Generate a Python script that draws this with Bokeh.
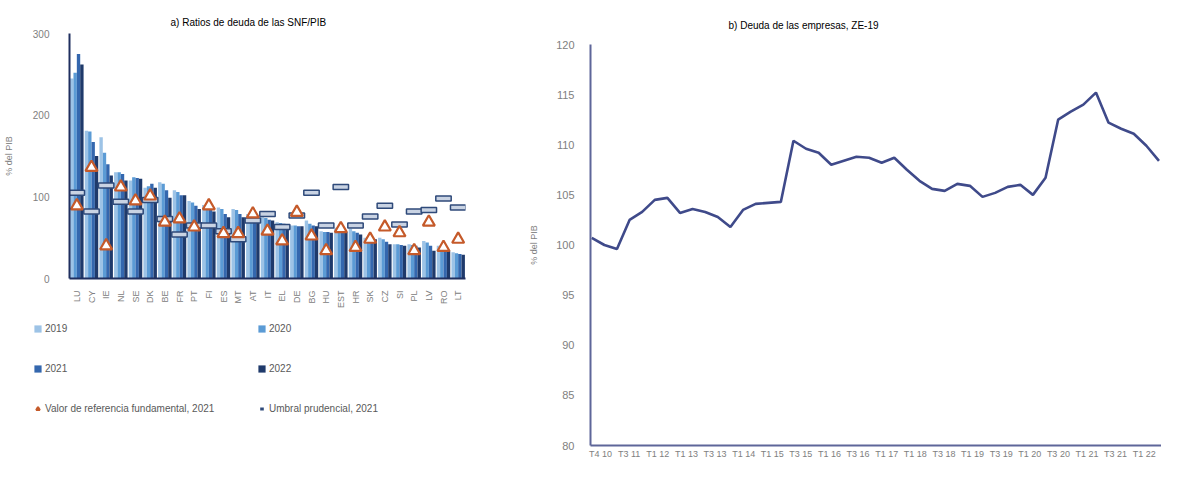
import math
from bokeh.plotting import figure
from bokeh.models import (FactorRange, Range1d, Legend, LegendItem, FixedTicker,
                          ColumnDataSource)
from bokeh.transform import dodge
from bokeh.layouts import row, column
from bokeh.embed import file_html
from bokeh.resources import INLINE

# ---------------- data: panel a ----------------
countries = ["LU", "CY", "IE", "NL", "SE", "DK", "BE", "FR", "PT", "FI", "ES", "MT", "AT", "IT",
             "EL", "DE", "BG", "HU", "EST", "HR", "SK", "CZ", "SI", "PL", "LV", "RO", "LT"]
ratio_2019 = [245, 181, 173, 130, 120, 111, 118, 108, 95, 90, 87, 85, 79, 75,
              69, 65, 71, 58, 62, 61, 50, 50, 42, 42, 46, 40, 32]
ratio_2020 = [252, 180, 154, 130, 124, 113, 116, 106, 93, 88, 85, 84, 78, 74,
              68, 65, 67, 57, 60, 58, 49, 48, 42, 41, 44, 38, 31]
ratio_2021 = [275, 167, 140, 128, 123, 116, 108, 102, 89, 85, 79, 79, 76, 72,
              67, 64, 65, 57, 58, 56, 48, 45, 41, 40, 40, 36, 30]
ratio_2022 = [262, 150, 126, 120, 122, 111, 99, 102, 85, 82, 75, 75, 74, 71,
              66, 64, 64, 56, 57, 54, 48, 42, 40, 38, 34, 34, 29]
ref_fund_2021 = [89, 136, 40, 112, 95, 101, 69, 73, 63, 89, 55, 55, 79, 58,
                 46, 81, 52, 34, 61, 38, 48, 63, 56, 34, 69, 38, 48]
umbral_2021 = [105, 82, 114, 94, 82, 96, 73, 54, 65, 65, 58, 48, 71, 79,
               63, 77, 105, 65, 112, 65, 76, 89, 66, 82, 84, 98, 87]
left_yticks = [0, 100, 200, 300]

# ---------------- data: panel b ----------------
deuda_empresas = [100.7, 100.0, 99.6, 102.5, 103.3, 104.5, 104.7, 103.2, 103.6, 103.3,
                  102.8, 101.8, 103.5, 104.1, 104.2, 104.3, 110.4, 109.6, 109.2, 108.0,
                  108.4, 108.8, 108.7, 108.2, 108.7, 107.5, 106.4, 105.6, 105.4, 106.1,
                  105.9, 104.8, 105.2, 105.8, 106.0, 105.0, 106.7, 112.5, 113.3, 114.0,
                  115.2, 112.2, 111.6, 111.1, 109.9, 108.4]
quarter_labels = ["T4 10", "T3 11", "T1 12", "T1 13", "T3 13", "T1 14", "T1 15", "T3 15",
                  "T1 16", "T3 16", "T1 17", "T1 18", "T3 18", "T1 19", "T3 19", "T1 20",
                  "T3 20", "T1 21", "T3 21", "T1 22"]
right_yticks = [80, 85, 90, 95, 100, 105, 110, 115, 120]

FONT = "Liberation Sans"
GRAY = "#808080"
C2019, C2020, C2021, C2022 = "#9DC3E6", "#5B9BD5", "#3467AE", "#1F3A6B"
TRI = "#C55A2A"
NAVY = "#1F2F5F"
UMB_FILL, UMB_LINE = "#C9D3E3", "#2F4A7A"
NAN = float("nan")

# ================= panel a =================
src = ColumnDataSource(dict(country=countries, y2019=ratio_2019, y2020=ratio_2020,
                            y2021=ratio_2021, y2022=ratio_2022,
                            ref=ref_fund_2021, umb=umbral_2021))

p1 = figure(x_range=FactorRange(*countries, range_padding=0), y_range=Range1d(0, 300),
            width=520, height=316, output_backend="svg", toolbar_location=None,
            min_border_left=69, min_border_right=55, min_border_top=33, min_border_bottom=38)
p1.title.text = "a) Ratios de deuda de las SNF/PIB"
p1.title.align = "left"
p1.title.offset = 101
p1.title.text_font = FONT
p1.title.text_font_size = "10px"
p1.title.text_font_style = "normal"
p1.title.text_color = "#000000"
p1.title.standoff = 12

year_cols = [("y2019", -0.345, C2019), ("y2020", -0.115, C2020),
             ("y2021", 0.115, C2021), ("y2022", 0.345, C2022)]
for col, off, colr in year_cols:
    p1.vbar(x=dodge("country", off, range=p1.x_range), top=col, width=0.23,
            source=src, fill_color=colr, line_color=None)

p1.rect(x="country", y="umb", width=1.05, height=5, height_units="screen",
        source=src, fill_color=UMB_FILL, line_color=UMB_LINE, line_width=1.5)
p1.scatter(x="country", y="ref", marker="triangle", size=12, source=src,
           fill_color="white", line_color=TRI, line_width=2.2)

p1.xgrid.grid_line_color = None
p1.ygrid.grid_line_color = None
p1.outline_line_color = None

p1.yaxis.ticker = FixedTicker(ticks=left_yticks)
p1.yaxis.axis_label = "% del PIB"
p1.yaxis.axis_label_text_font = FONT
p1.yaxis.axis_label_text_font_size = "9px"
p1.yaxis.axis_label_text_font_style = "normal"
p1.yaxis.axis_label_text_color = GRAY
p1.yaxis.axis_label_standoff = 16
p1.yaxis.major_label_text_font = FONT
p1.yaxis.major_label_text_font_size = "10px"
p1.yaxis.major_label_text_color = GRAY
p1.yaxis.major_label_standoff = 20
p1.yaxis.major_tick_line_color = None
p1.yaxis.major_tick_out = 0
p1.yaxis.minor_tick_line_color = None
p1.yaxis.axis_line_color = NAVY
p1.yaxis.axis_line_width = 2

p1.xaxis.major_label_orientation = math.pi / 2
p1.xaxis.major_label_text_font = FONT
p1.xaxis.major_label_text_font_size = "9px"
p1.xaxis.major_label_text_color = GRAY
p1.xaxis.major_label_standoff = 12
p1.xaxis.major_tick_line_color = None
p1.xaxis.major_tick_out = 0
p1.xaxis.axis_line_color = NAVY
p1.xaxis.axis_line_width = 2

# ---- legend panel (below panel a) ----
pl = figure(x_range=Range1d(0, 1), y_range=Range1d(0, 1), width=520, height=145,
            output_backend="svg", toolbar_location=None,
            min_border_left=0, min_border_right=0, min_border_top=0, min_border_bottom=0)
pl.axis.visible = False
pl.xgrid.grid_line_color = None
pl.ygrid.grid_line_color = None
pl.outline_line_color = None

# legend proxies: no visible marks (NaN), only used to draw the legend swatches
leg_r = {}
for col, off, colr in year_cols:
    leg_r[col] = pl.vbar(x=[NAN], top=[NAN], width=0.1, fill_color=colr, line_color=None)
leg_r["umb"] = pl.scatter(x=[NAN], y=[NAN], marker="dash", size=9,
                          line_color=UMB_LINE, line_width=3)
leg_r["ref"] = pl.scatter(x=[NAN], y=[NAN], marker="triangle", size=9, fill_color="white",
                          line_color=TRI, line_width=2)


def make_legend(items, loc):
    lg = Legend(items=items, location=loc)
    lg.label_text_font = FONT
    lg.label_text_font_size = "10px"
    lg.label_text_color = "#595959"
    lg.glyph_width = 9
    lg.glyph_height = 9
    lg.label_height = 9
    lg.label_standoff = 3
    lg.spacing = 29
    lg.padding = 0
    lg.margin = 0
    lg.border_line_color = None
    lg.background_fill_alpha = 0
    return lg


leg1 = make_legend([LegendItem(label="2019", renderers=[leg_r["y2019"]]),
                    LegendItem(label="2021", renderers=[leg_r["y2021"]]),
                    LegendItem(label="Valor de referencia fundamental, 2021",
                               renderers=[leg_r["ref"]])], (33, 47))
leg2 = make_legend([LegendItem(label="2020", renderers=[leg_r["y2020"]]),
                    LegendItem(label="2022", renderers=[leg_r["y2022"]]),
                    LegendItem(label="Umbral prudencial, 2021", renderers=[leg_r["umb"]])],
                   (257, 47))
pl.add_layout(leg1, "center")
pl.add_layout(leg2, "center")

# ================= panel b =================
src2 = ColumnDataSource(dict(q=list(range(len(deuda_empresas))), v=deuda_empresas))

p2 = figure(x_range=Range1d(-0.1, 45.2), y_range=Range1d(80, 120),
            width=641, height=461, output_backend="svg", toolbar_location=None,
            min_border_left=70, min_border_right=0, min_border_top=44, min_border_bottom=14)
p2.title.text = "b) Deuda de las empresas, ZE-19"
p2.title.align = "left"
p2.title.offset = 138
p2.title.text_font = FONT
p2.title.text_font_size = "10px"
p2.title.text_font_style = "normal"
p2.title.text_color = "#000000"
p2.title.standoff = 27

p2.line(x="q", y="v", source=src2, line_color="#3F4A8A", line_width=2.6)

p2.xgrid.grid_line_color = None
p2.ygrid.grid_line_color = None
p2.outline_line_color = None

p2.yaxis.ticker = FixedTicker(ticks=right_yticks)
p2.yaxis.axis_label = "% del PIB"
p2.yaxis.axis_label_text_font = FONT
p2.yaxis.axis_label_text_font_size = "9px"
p2.yaxis.axis_label_text_font_style = "normal"
p2.yaxis.axis_label_text_color = GRAY
p2.yaxis.axis_label_standoff = 14
p2.yaxis.major_label_text_font = FONT
p2.yaxis.major_label_text_font_size = "11px"
p2.yaxis.major_label_text_color = GRAY
p2.yaxis.major_label_standoff = 16
p2.yaxis.major_tick_line_color = None
p2.yaxis.major_tick_out = 0
p2.yaxis.minor_tick_line_color = None
p2.yaxis.axis_line_color = "#5E6699"
p2.yaxis.axis_line_width = 2

tick_pos = [0.7 + 2.27 * k for k in range(len(quarter_labels))]
p2.xaxis.ticker = FixedTicker(ticks=tick_pos)
p2.xaxis.major_label_overrides = {t: lab for t, lab in zip(tick_pos, quarter_labels)}
p2.xaxis.major_label_text_font = FONT
p2.xaxis.major_label_text_font_size = "9px"
p2.xaxis.major_label_text_color = GRAY
p2.xaxis.major_label_standoff = 3
p2.xaxis.major_tick_line_color = None
p2.xaxis.major_tick_out = 0
p2.xaxis.minor_tick_line_color = None
p2.xaxis.axis_line_color = "#5E6699"
p2.xaxis.axis_line_width = 2

layout = row(column(row(p1), row(pl)), column(p2))
open("out.html", "w").write(file_html(layout, INLINE))
